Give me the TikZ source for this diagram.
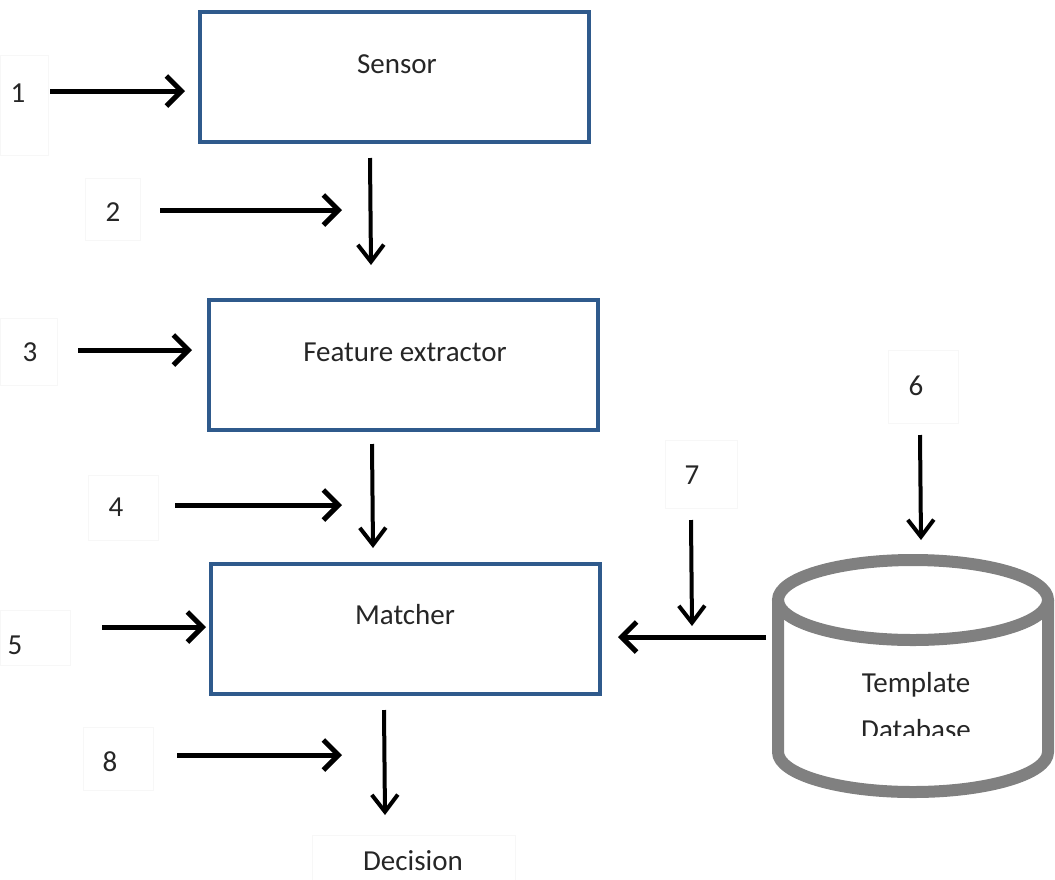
\documentclass[tikz,border=0pt]{standalone}
\usepackage{fontspec}
\setmainfont{Carlito}
\usetikzlibrary{arrows.meta}
\definecolor{boxblue}{HTML}{2F5A8C}
\definecolor{dbgray}{HTML}{808080}
\begin{document}
\begin{tikzpicture}[x=1pt,y=-1pt,
  stage/.style={draw=boxblue, line width=4pt, minimum width=389pt, minimum height=130pt, inner sep=0pt},
  stagetext/.style={font=\fontsize{29}{34}\selectfont, text=black!85},
  num/.style={font=\fontsize{29}{34}\selectfont, text=black!85, inner sep=0pt},
  faint/.style={draw=black!3, line width=0.8pt},
  harr/.style={line width=5pt, -{Straight Barb[length=15pt,width=30pt,line width=5pt]}},
  varr/.style={line width=4pt, -{Straight Barb[length=17pt,width=26pt,line width=4pt]}},
  cyl/.style={draw=dbgray, line width=12pt}]
\useasboundingbox (0,0) rectangle (1055,879);

% faint frames around the numbers
\draw[faint] (0,55) rectangle (48,155);
\draw[faint] (85,178) rectangle (140,240);
\draw[faint] (0,318) rectangle (57,385);
\draw[faint] (88,475) rectangle (158,540);
\draw[faint] (0,610) rectangle (70,665);
\draw[faint] (83,727) rectangle (153,790);
\draw[faint] (888,350) rectangle (958,423);
\draw[faint] (665,440) rectangle (737,508);
\draw[faint] (312,835) rectangle (515,882);

% processing stages
\node[stage] (sensor) at (394,76.5) {};
\node[stagetext] (sensortxt) at (397,64) {Sensor};
\node[stage] (feature) at (403.5,365) {};
\node[stagetext] (featuretxt) at (405,352) {Feature extractor};
\node[stage] (matcher) at (405.5,629) {};
\node[stagetext] (matchertxt) at (405,615) {Matcher};
\node[stagetext] (decision) at (413,861) {Decision};

% template database cylinder
\draw[cyl] (913,600) ellipse [x radius=135, y radius=40];
\draw[cyl] (778,600) -- (778,752) arc[start angle=180, end angle=0, x radius=135, y radius=40] -- (1048,600);
\node[minimum width=282pt, minimum height=244pt, inner sep=0pt] (db) at (913,676) {};
\begin{scope}
  \clip (800,640) rectangle (1030,735);
  \node[stagetext] (dbtxt1) at (916,685) {Template};
  \node[stagetext] (dbtxt2) at (916,730) {Database};
\end{scope}

% numbers
\node[num] (n1) at (18,93) {1};
\node[num] (n2) at (113,212) {2};
\node[num] (n3) at (30,352) {3};
\node[num] (n4) at (116,507) {4};
\node[num] (n5) at (15,645) {5};
\node[num] (n6) at (916,386) {6};
\node[num] (n7) at (692,475) {7};
\node[num] (n8) at (110,762) {8};

% arrow end points
\coordinate (a1s) at (50,91);   \coordinate (a1e) at (185,91);
\coordinate (a2s) at (160,210); \coordinate (a2e) at (342,210);
\coordinate (a3s) at (78,350);  \coordinate (a3e) at (192,350);
\coordinate (a4s) at (175,505); \coordinate (a4e) at (342,505);
\coordinate (a5s) at (102,627); \coordinate (a5e) at (206,627);
\coordinate (a8s) at (177,755); \coordinate (a8e) at (342,755);
\coordinate (s1) at (370,158);  \coordinate (s2) at (371,265);
\coordinate (f1) at (372,444);  \coordinate (f2) at (373,548);
\coordinate (m1) at (384,710);  \coordinate (m2) at (385,815);
\coordinate (d6s) at (920,435); \coordinate (d6e) at (921,540);
\coordinate (d7s) at (691,520); \coordinate (d7e) at (692,626);
\coordinate (dbport) at (766,637); \coordinate (mport) at (618,637);

% connectors
\draw[harr] (a1s) -- (a1e);
\draw[harr] (a2s) -- (a2e);
\draw[harr] (a3s) -- (a3e);
\draw[harr] (a4s) -- (a4e);
\draw[harr] (a5s) -- (a5e);
\draw[harr] (a8s) -- (a8e);
\draw[varr] (s1) -- (s2);
\draw[varr] (f1) -- (f2);
\draw[varr] (m1) -- (m2);
\draw[varr] (d6s) -- (d6e);
\draw[varr] (d7s) -- (d7e);
\draw[harr] (dbport) -- (mport);
\end{tikzpicture}
\end{document}
